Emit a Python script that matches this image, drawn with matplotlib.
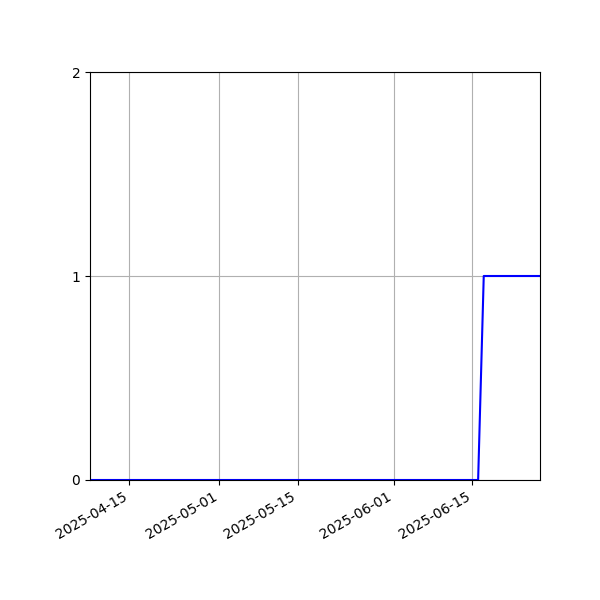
import matplotlib
matplotlib.use("Agg")
import matplotlib.pyplot as plt
import pandas as pd

# daily values, 2025-04-08 .. 2025-06-27
start_date = "2025-04-08"
end_date = "2025-06-27"
values = [
    0, 0, 0, 0, 0, 0, 0, 0, 0, 0, 0, 0, 0, 0, 0, 0, 0, 0, 0, 0, 0, 0, 0,  # Apr 8-30
    0, 0, 0, 0, 0, 0, 0, 0, 0, 0, 0, 0, 0, 0, 0, 0, 0, 0, 0, 0, 0, 0, 0,
    0, 0, 0, 0, 0, 0, 0, 0,  # May
    0, 0, 0, 0, 0, 0, 0, 0, 0, 0, 0, 0, 0, 0, 0, 0,  # Jun 1-16
    1, 1, 1, 1, 1, 1, 1, 1, 1, 1, 1,  # Jun 17-27
]
y_ticks = [0, 1, 2]

dates = pd.date_range(start_date, end_date, freq="D")

fig, ax = plt.subplots(figsize=(6, 6), dpi=100)
ax.plot(dates, values, color="blue")
ax.set_xlim(dates[0], dates[-1])
ax.set_ylim(0, 2)
ax.set_yticks(y_ticks)
ax.grid(True)
fig.autofmt_xdate()
fig.subplots_adjust(left=0.15, right=0.9, top=0.88, bottom=0.2)

plt.savefig("out.png")
